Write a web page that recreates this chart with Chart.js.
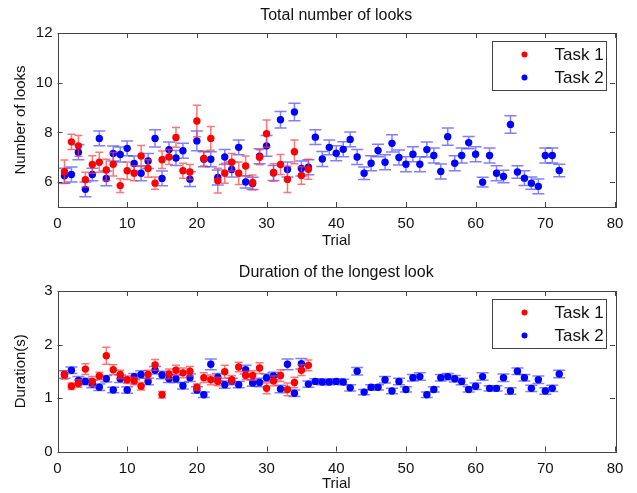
<!DOCTYPE html>
<html>
<head>
<meta charset="utf-8">
<script src="https://cdn.jsdelivr.net/npm/chart.js@4/dist/chart.umd.min.js"></script>
<style>
  html, body { margin: 0; padding: 0; background: #fff; }
  #wrap { position: relative; width: 637px; height: 493px; }
  #looks { position: absolute; left: 0; top: 0; }
  #duration { position: absolute; left: 0; top: 250px; }
</style>
</head>
<body>
<div id="wrap">
  <canvas id="looks" width="637" height="250"></canvas>
  <canvas id="duration" width="637" height="243"></canvas>
</div>
<script>
// trial numbers
const trialsTask1 = [1,2,3,4,5,6,7,8,9,10,11,12,13,14,15,16,17,18,19,20,21,22,23,24,25,26,27,28,29,30,31,32,33,34,35,36];
const trialsTask2 = [1,2,3,4,5,6,7,8,9,10,11,12,13,14,15,16,17,18,19,20,21,22,23,24,25,26,27,28,29,30,31,32,33,34,35,36,
  37,38,39,40,41,42,43,44,45,46,47,48,49,50,51,52,53,54,55,56,57,58,59,60,61,62,63,64,65,66,67,68,69,70,71,72];

// Total number of looks
const looksTask1 = [6.42,7.62,7.46,6.10,6.71,6.80,6.49,6.72,5.86,6.46,6.36,7.05,6.55,5.96,6.90,7.01,7.80,6.46,
  6.41,8.46,6.95,7.76,6.06,6.36,6.80,6.36,6.65,5.99,7.00,7.95,6.39,6.71,6.11,7.22,6.27,6.52];
const looksTask1Err = [0.47,0.31,0.42,0.30,0.35,0.40,0.43,0.47,0.28,0.35,0.30,0.42,0.35,0.25,0.35,0.30,0.40,0.30,
  0.30,0.63,0.30,0.48,0.50,0.40,0.35,0.45,0.40,0.30,0.30,0.55,0.35,0.40,0.53,0.48,0.35,0.40];
const looksTask2 = [6.26,6.31,7.20,5.71,6.31,7.76,6.15,7.15,7.11,7.36,6.75,6.36,6.85,7.76,6.15,7.31,6.97,7.26,
  6.12,7.66,6.92,6.92,6.19,7.01,6.51,7.40,6.01,5.95,7.04,7.46,6.37,8.51,6.51,8.82,6.55,6.60,
  7.81,6.93,7.40,7.16,7.32,7.72,7.01,6.36,6.76,7.27,6.80,7.56,6.99,6.72,7.12,6.72,7.31,7.07,
  6.43,7.83,6.76,7.07,7.59,7.12,6.00,7.07,6.36,6.23,8.32,6.41,6.16,5.96,5.83,7.07,7.07,6.47];
const looksTask2Err = [0.30,0.30,0.30,0.30,0.25,0.30,0.30,0.30,0.30,0.30,0.30,0.30,0.30,0.35,0.30,0.30,0.30,0.30,
  0.30,0.40,0.30,0.30,0.30,0.30,0.30,0.30,0.25,0.25,0.30,0.42,0.30,0.33,0.30,0.35,0.30,0.30,
  0.30,0.30,0.30,0.30,0.30,0.30,0.30,0.25,0.30,0.25,0.30,0.35,0.30,0.30,0.30,0.30,0.30,0.30,
  0.30,0.35,0.30,0.30,0.25,0.30,0.20,0.30,0.30,0.25,0.35,0.25,0.30,0.25,0.30,0.30,0.30,0.25];

// Duration of the longest look (s)
const durTask1 = [1.43,1.22,1.27,1.54,1.31,1.41,1.79,1.53,1.44,1.34,1.32,1.22,1.44,1.62,1.06,1.45,1.52,1.47,
  1.50,1.20,1.38,1.34,1.31,1.49,1.34,1.58,1.42,1.42,1.56,1.18,1.32,1.42,1.16,1.29,1.52,1.61];
const durTask1Err = [0.08,0.06,0.07,0.10,0.09,0.07,0.16,0.09,0.08,0.07,0.07,0.07,0.08,0.10,0.06,0.09,0.09,0.09,
  0.09,0.06,0.09,0.09,0.08,0.12,0.08,0.09,0.08,0.09,0.10,0.10,0.09,0.11,0.12,0.10,0.10,0.10];
const durTask2 = [1.44,1.52,1.33,1.31,1.26,1.20,1.36,1.15,1.36,1.15,1.40,1.44,1.31,1.52,1.43,1.36,1.36,1.23,
  1.38,1.15,1.06,1.63,1.39,1.25,1.31,1.25,1.53,1.28,1.29,1.38,1.41,1.17,1.63,1.09,1.64,1.26,
  1.31,1.30,1.30,1.31,1.30,1.19,1.50,1.11,1.20,1.20,1.34,1.13,1.31,1.16,1.38,1.40,1.06,1.16,
  1.38,1.40,1.36,1.31,1.16,1.22,1.40,1.18,1.18,1.38,1.13,1.50,1.38,1.18,1.34,1.13,1.18,1.45];
const durTask2Err = [0.07,0.06,0.07,0.06,0.07,0.06,0.06,0.05,0.07,0.06,0.06,0.07,0.06,0.07,0.07,0.07,0.07,0.06,
  0.07,0.06,0.05,0.10,0.07,0.07,0.06,0.06,0.08,0.06,0.08,0.07,0.07,0.07,0.10,0.06,0.10,0.06,
  0.05,0.05,0.05,0.05,0.05,0.06,0.07,0.05,0.05,0.05,0.06,0.05,0.06,0.05,0.06,0.07,0.05,0.05,
  0.06,0.06,0.06,0.06,0.05,0.06,0.07,0.05,0.05,0.07,0.06,0.06,0.06,0.06,0.07,0.06,0.06,0.07];

const xTicks = [0,10,20,30,40,50,60,70,80];
const looksTicks = [6,8,10,12];
const durTicks = [0,1,2,3];

const FONT = 'Liberation Sans, Arial, sans-serif';

// draws error bars of a dataset just before its points
const errorBars = {
  id: 'errorBars',
  beforeDatasetDraw(chart, args) {
    const ds = chart.data.datasets[args.index];
    if (!ds.errors) return;
    const xs = chart.scales.x, ys = chart.scales.y;
    const ctx = chart.ctx;
    ctx.save();
    ctx.strokeStyle = ds.errorColor;
    ctx.lineWidth = 1.5;
    ds.data.forEach((p, i) => {
      const px = xs.getPixelForValue(p.x);
      const y1 = ys.getPixelForValue(p.y - ds.errors[i]);
      const y2 = ys.getPixelForValue(p.y + ds.errors[i]);
      const w = ds.capHalf;
      ctx.beginPath();
      ctx.moveTo(px, y1); ctx.lineTo(px, y2);
      ctx.moveTo(px - w, y1); ctx.lineTo(px + w, y1);
      ctx.moveTo(px - w, y2); ctx.lineTo(px + w, y2);
      ctx.stroke();
    });
    ctx.restore();
  }
};

// MATLAB style box with inward ticks, and a legend inside the axes
const boxAndLegend = {
  id: 'boxAndLegend',
  afterDatasetsDraw(chart) {
    const { ctx, chartArea: a } = chart;
    const xs = chart.scales.x, ys = chart.scales.y;
    ctx.save();
    ctx.strokeStyle = '#444';
    ctx.lineWidth = 1;
    ctx.strokeRect(Math.round(a.left) + 0.5, Math.round(a.top) + 0.5,
      Math.round(a.right - a.left), Math.round(a.bottom - a.top));
    ctx.beginPath();
    const t = 5;
    xs.ticks.forEach(tk => {
      const px = Math.round(xs.getPixelForValue(tk.value)) + 0.5;
      ctx.moveTo(px, a.bottom); ctx.lineTo(px, a.bottom - t);
      ctx.moveTo(px, a.top); ctx.lineTo(px, a.top + t);
    });
    ys.ticks.forEach(tk => {
      const py = Math.round(ys.getPixelForValue(tk.value)) + 0.5;
      ctx.moveTo(a.left, py); ctx.lineTo(a.left + t, py);
      ctx.moveTo(a.right, py); ctx.lineTo(a.right - t, py);
    });
    ctx.stroke();

    // legend
    const bw = 114, bh = 49;
    const bx = Math.round(a.right - 9 - bw) + 0.5, by = Math.round(a.top + 8) + 0.5;
    ctx.fillStyle = '#fff';
    ctx.fillRect(bx, by, bw, bh);
    ctx.strokeRect(bx, by, bw, bh);
    ctx.font = '17px ' + FONT;
    ctx.textBaseline = 'middle';
    chart.data.datasets.forEach((ds, i) => {
      const cy = by + 13 + i * 23;
      ctx.fillStyle = ds.backgroundColor;
      ctx.beginPath();
      ctx.arc(bx + 32, cy, 3, 0, Math.PI * 2);
      ctx.fill();
      ctx.fillStyle = '#111';
      ctx.fillText(ds.label, bx + 62, cy + 1);
    });
    ctx.restore();
  }
};

function points(xsArr, ysArr) {
  return xsArr.map((x, i) => ({ x: x, y: ysArr[i] }));
}

function makeChart(id, title, topH, titleTop, yTitle, yMin, yMax, yTicks, axisH, t1, t1e, t2, t2e) {
  const ctx = document.getElementById(id).getContext('2d');
  return new Chart(ctx, {
    type: 'scatter',
    data: {
      datasets: [
        {
          label: 'Task 1',
          data: points(trialsTask1, t1),
          errors: t1e,
          errorColor: 'rgba(255, 60, 60, 0.7)',
          capHalf: 4,
          backgroundColor: '#ff0000',
          pointRadius: 3.7,
          pointBorderWidth: 0
        },
        {
          label: 'Task 2',
          data: points(trialsTask2, t2),
          errors: t2e,
          errorColor: 'rgba(60, 60, 255, 0.65)',
          capHalf: 6,
          backgroundColor: '#0000ff',
          pointRadius: 3.7,
          pointBorderWidth: 0
        }
      ]
    },
    options: {
      responsive: false,
      animation: false,
      devicePixelRatio: 1,
      layout: { padding: { left: 0, right: 22, top: 0, bottom: 0 } },
      plugins: {
        legend: { display: false },
        tooltip: { enabled: false }
      },
      scales: {
        // the chart title sits on a label-less top axis so it centres over the plot area
        top: {
          type: 'linear',
          axis: 'x',
          position: 'top',
          min: 0, max: 80,
          afterFit: s => { s.height = topH; },
          grid: { display: false, drawTicks: false },
          border: { display: false },
          ticks: { display: false },
          title: { display: true, text: title, color: '#111',
                   font: { family: FONT, size: 16 }, padding: { top: titleTop, bottom: 0 } }
        },
        x: {
          type: 'linear',
          position: 'bottom',
          min: 0, max: 80,
          afterBuildTicks: s => { s.ticks = xTicks.map(v => ({ value: v })); },
          afterFit: s => { s.height = axisH; },
          grid: { display: false, drawTicks: false },
          border: { display: false },
          ticks: { color: '#111', font: { family: FONT, size: 15 }, padding: 8, maxRotation: 0 },
          title: { display: true, text: 'Trial', color: '#111',
                   font: { family: FONT, size: 15 }, padding: { top: 0, bottom: 0 } }
        },
        y: {
          type: 'linear',
          min: yMin, max: yMax,
          afterBuildTicks: s => { s.ticks = yTicks.map(v => ({ value: v })); },
          afterFit: s => { s.width = 57.5; },
          grid: { display: false, drawTicks: false },
          border: { display: false },
          ticks: { color: '#111', font: { family: FONT, size: 15 }, padding: 5 },
          title: { display: true, text: yTitle, color: '#111',
                   font: { family: FONT, size: 15 }, padding: { top: 12, bottom: 0 } }
        }
      }
    },
    plugins: [errorBars, boxAndLegend]
  });
}

makeChart('looks', 'Total number of looks', 33, 6, 'Number of looks',
  5, 12, looksTicks, 43, looksTask1, looksTask1Err, looksTask2, looksTask2Err);
makeChart('duration', 'Duration of the longest look', 41, 13, 'Duration(s)',
  0, 3, durTicks, 41.5, durTask1, durTask1Err, durTask2, durTask2Err);
</script>
</body>
</html>
